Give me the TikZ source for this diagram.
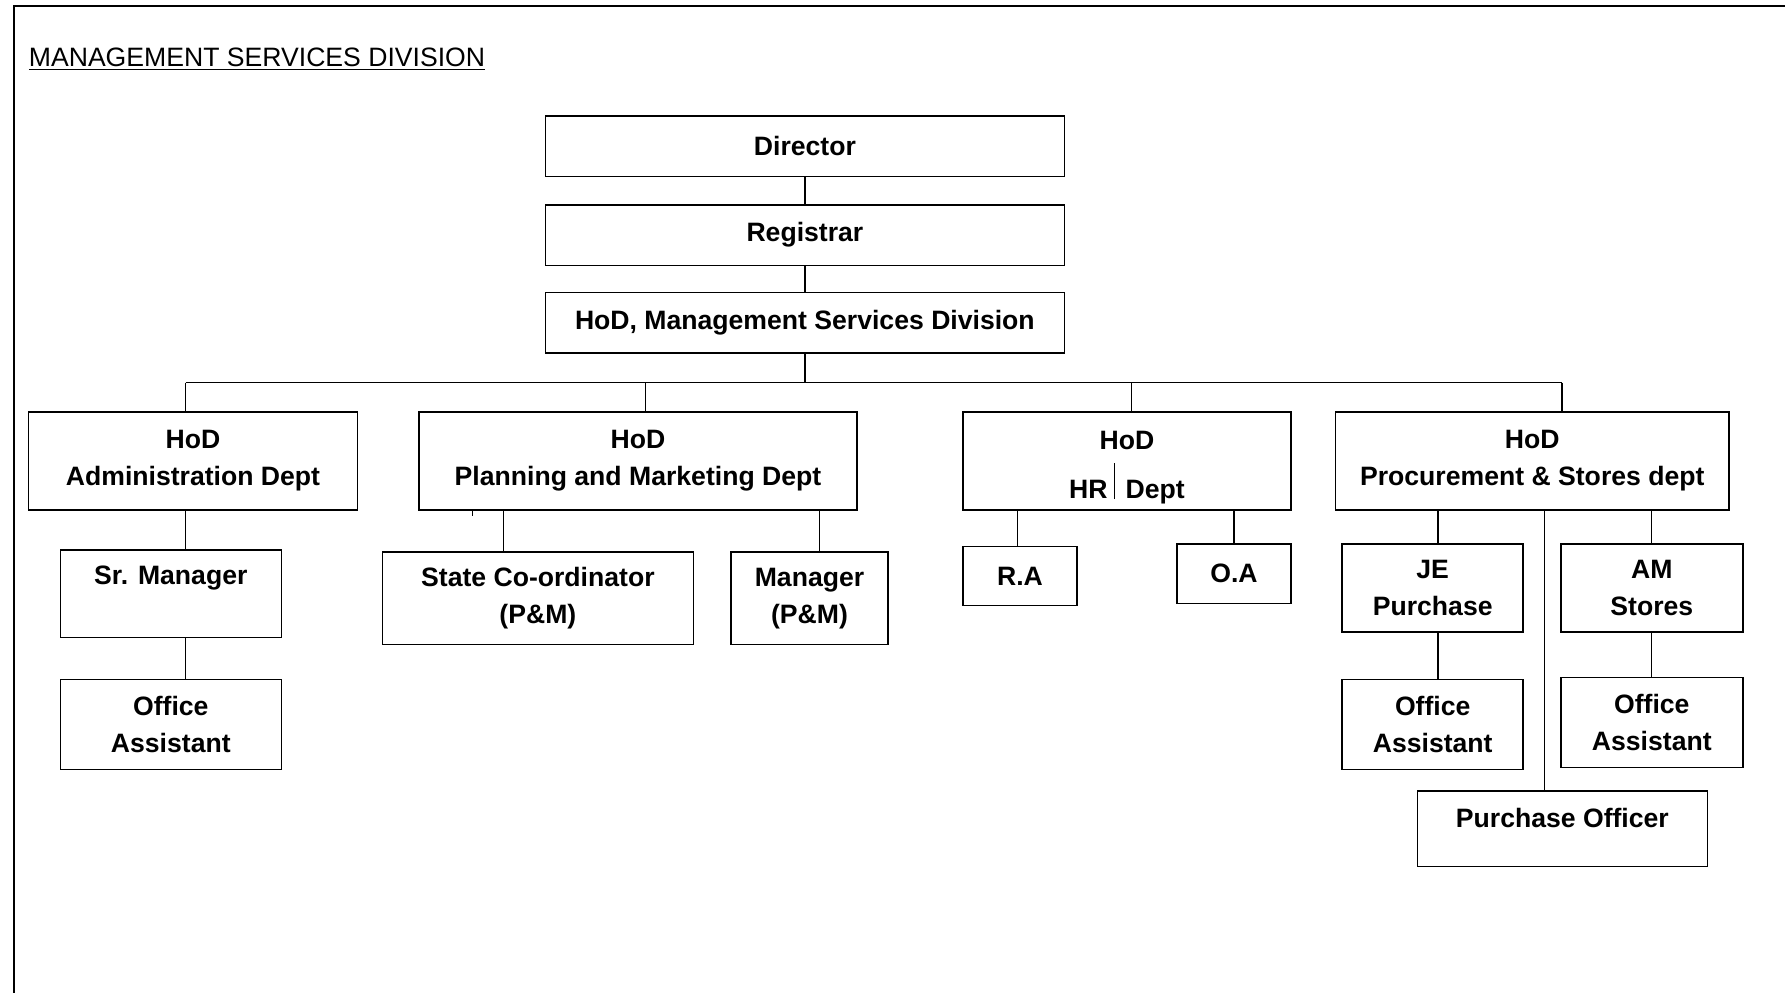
\documentclass[tikz,border=0pt]{standalone}
\usepackage{fontspec}
\setmainfont{Liberation Sans}
\usepackage{tikz}
\usetikzlibrary{calc}

\begin{document}
\begin{tikzpicture}[x=0.5pt,y=-0.5pt,
            box/.style={draw,line width=0.8pt,align=center,inner sep=0pt,font=\bfseries\fontsize{13.3}{18.5}\selectfont},
            link/.style={line width=0.6pt}]
            \useasboundingbox (0,0) rectangle (1785,992);
            \clip (0,0) rectangle (1785,992);

            % Frame and title
            \draw[line width=1.15pt] (13.7,5.7) rectangle (1800,1010);
            \node[anchor=base west,inner sep=0pt] (title) at (28.5,66) {\fontsize{13.3}{16}\selectfont\underline{MANAGEMENT SERVICES DIVISION}};

            % Top chain
            \node[box,minimum width=259.6pt,minimum height=30.2pt] (dir) at (804.9,146.3) {Director};
            \node[box,minimum width=259.6pt,minimum height=30.2pt] (reg) at (804.9,235.1) {Registrar};
            \node[box,minimum width=259.6pt,minimum height=30.2pt] (hod) at (804.9,322.8) {HoD, Management Services Division};
            \draw[link] (dir) -- (reg);
            \draw[link] (reg) -- (hod);

            % Departments
            \node[box,minimum width=164.5pt,minimum height=49pt] (adm) at (193,461) {HoD\\Administration Dept};
            \node[box,minimum width=219.2pt,minimum height=49pt] (pm) at (638,461) {HoD\\Planning and Marketing Dept};
            \node[box,minimum width=164pt,minimum height=49pt] (hr) at (1127,461) {\rule{0pt}{15.5pt}HoD\\[6pt]HR\hspace{3pt}\rule[-0.5pt]{0.5pt}{18pt}\hspace{5.5pt}Dept};
            \node[box,minimum width=196.9pt,minimum height=49pt] (proc) at (1532.3,461) {HoD\\Procurement \& Stores dept};

            % Bus
            \coordinate (b1) at (185.6,382.5);
            \coordinate (b2) at (645.5,382.5);
            \coordinate (b3) at (1131.6,382.5);
            \coordinate (b4) at (1561.9,382.5);
            \draw[link] (b1) -- (b4);
            \draw[link] (hod.south) -- (hod.south |- b1);
            \foreach \n/\b in {adm/b1,pm/b2,hr/b3,proc/b4}
            {
                \draw[link] (\b) -- (\n.north -| \b);
            }

            % Staff
            \node[box,minimum width=110.5pt,minimum height=43.8pt] (srm) at (170.8,593.7) {Sr. Manager\\\mbox{}};
            \node[box,minimum width=110.5pt,minimum height=45pt] (oa1) at (170.8,724.6) {Office\\Assistant};
            \node[box,minimum width=155.4pt,minimum height=46.1pt] (sc) at (537.9,598.2) {State Co-ordinator\\(P\&M)};
            \node[box,minimum width=78.6pt,minimum height=46.1pt] (mgr) at (809.5,598.2) {Manager\\(P\&M)};
            \node[box,minimum width=57pt,minimum height=29.6pt] (ra) at (1020,576) {R.A};
            \node[box,minimum width=57pt,minimum height=29.6pt] (oa) at (1234,573.8) {O.A};
            \node[box,minimum width=90.5pt,minimum height=43.8pt] (je) at (1432.7,588) {JE\\Purchase};
            \node[box,minimum width=91pt,minimum height=43.8pt] (am) at (1651.8,588) {AM\\Stores};
            \node[box,minimum width=90.5pt,minimum height=45pt] (oa2) at (1432.7,724.6) {Office\\Assistant};
            \node[box,minimum width=91pt,minimum height=45pt] (oa3) at (1651.8,722.4) {Office\\Assistant};
            \node[box,minimum width=145.1pt,minimum height=37.6pt] (po) at (1562.4,828.8) {Purchase Officer\\[-8pt]\mbox{}};

            % Staff links
            \coordinate (c2) at (503.2,0);
            \coordinate (c3) at (819.7,0);
            \coordinate (c4) at (1017.7,0);
            \coordinate (c5) at (1234,0);
            \coordinate (c6) at (1437.9,0);
            \coordinate (c7) at (1651.8,0);
            \coordinate (c8) at (1544.8,0);
            \foreach \a/\z/\c in {adm/srm/b1,srm/oa1/b1,pm/sc/c2,pm/mgr/c3,hr/ra/c4,hr/oa/c5,proc/je/c6,je/oa2/c6,proc/am/c7,am/oa3/c7,proc/po/c8}
            {
                \draw[link] (\a.south -| \c) -- (\z.north -| \c);
            }
            \coordinate (c1) at (472.4,0);
            \draw[link] (pm.south -| c1) -- ++(0,5);
\end{tikzpicture}
\end{document}
